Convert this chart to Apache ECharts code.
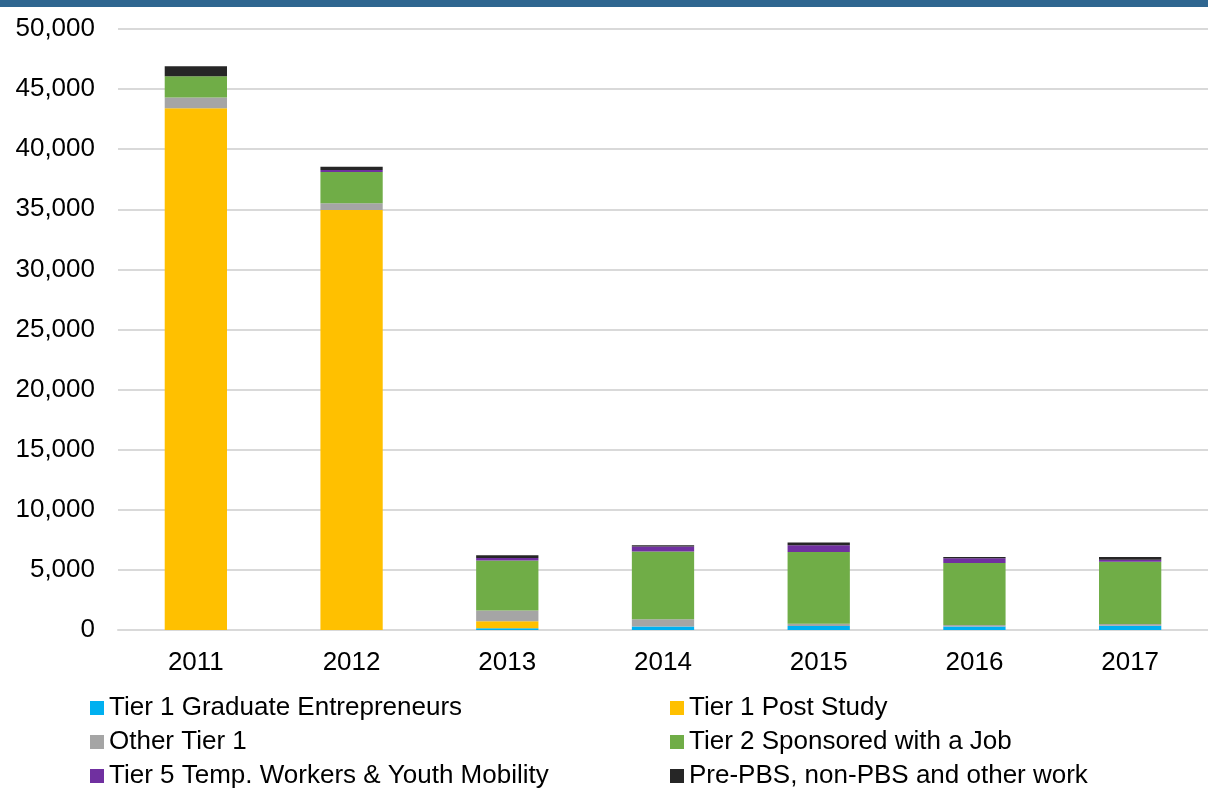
<!DOCTYPE html>
<html lang="en">
<head>
    <meta charset="UTF-8">
    <title>Chart</title>
    <style>
        * { margin: 0; padding: 0; }
        body { background: #fff; }
        .box { width: 1208px; height: 799px; }
    </style>
</head>
<body>
    <div class="box" id="main"></div>
    <script src="https://cdn.jsdelivr.net/npm/echarts@6/dist/echarts.min.js"></script>
    <script>
        var years = ['2011', '2012', '2013', '2014', '2015', '2016', '2017'];
        var gradEntrepreneurs = [0, 0, 150, 290, 330, 300, 360];
        var postStudy = [43400, 34940, 580, 0, 0, 0, 0];
        var otherTier1 = [900, 560, 890, 610, 190, 110, 140];
        var tier2 = [1770, 2600, 4160, 5630, 5960, 5160, 5180];
        var tier5 = [0, 170, 220, 415, 580, 390, 170];
        var prePBS = [830, 280, 220, 110, 220, 110, 220];
        var yTicks = [0, 5000, 10000, 15000, 20000, 25000, 30000, 35000, 40000, 45000, 50000];

        var names = [
            'Tier 1 Graduate Entrepreneurs', 'Tier 1 Post Study', 'Other Tier 1',
            'Tier 2 Sponsored with a Job', 'Tier 5 Temp. Workers & Youth Mobility',
            'Pre-PBS, non-PBS and other work'
        ];
        var colors = ['#00b0f0', '#ffc000', '#a5a5a5', '#70ad47', '#7030a0', '#262626'];
        var values = [gradEntrepreneurs, postStudy, otherTier1, tier2, tier5, prePBS];

        var chart = echarts.init(document.getElementById('main'));
        var font = 'Liberation Sans, Arial, sans-serif';

        var series = names.map(function (n, i) {
            return {
                name: n,
                type: 'bar',
                stack: 'total',
                barWidth: '40%',
                itemStyle: { color: colors[i] },
                data: values[i]
            };
        });

        // two vertical legends side by side, like the two columns in the original
        function legend(data, left) {
            return {
                data: data,
                orient: 'vertical',
                left: left,
                top: 695,
                padding: 0,
                itemWidth: 14,
                itemHeight: 14,
                itemGap: 8,
                icon: 'rect',
                textStyle: { fontSize: 26, lineHeight: 26, fontFamily: font, color: '#000' }
            };
        }

        chart.setOption({
            animation: false,
            color: colors,
            graphic: [{
                type: 'rect',
                shape: { x: 0, y: 0, width: 1208, height: 7 },
                style: { fill: '#2f6690' }
            }],
            grid: { left: 118, right: 0, top: 29, bottom: 169 },
            legend: [
                legend([names[0], names[2], names[4]], 90),
                legend([names[1], names[3], names[5]], 670)
            ],
            xAxis: {
                type: 'category',
                data: years,
                axisTick: { show: false },
                axisLine: { lineStyle: { color: '#d9d9d9', width: 2 } },
                axisLabel: { fontSize: 26, fontFamily: font, color: '#000', margin: 20 }
            },
            yAxis: {
                type: 'value',
                min: yTicks[0],
                max: yTicks[yTicks.length - 1],
                interval: 5000,
                splitLine: { lineStyle: { color: '#d9d9d9', width: 2 } },
                axisLabel: {
                    fontSize: 26, fontFamily: font, color: '#000', margin: 23,
                    formatter: function (v) { return v.toLocaleString('en-US'); }
                }
            },
            series: series
        });
    </script>
</body>
</html>
